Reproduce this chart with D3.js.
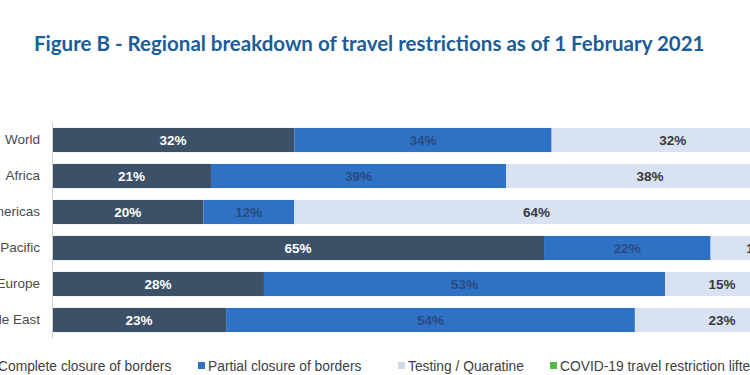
<!DOCTYPE html>
<html>
<head>
<meta charset="utf-8">
<script src="https://cdn.jsdelivr.net/npm/d3@7"></script>
<style>
html,body{margin:0;padding:0;background:#fff;overflow:hidden;}
svg{display:block;}
</style>
</head>
<body>
<svg id="chart" width="750" height="375"></svg>
<script>
const categories = ["World", "Africa", "Americas", "Asia Pacific", "Europe", "Middle East"];
const seriesNames = ["Complete closure of borders", "Partial closure of borders", "Testing / Quaratine", "COVID-19 travel restriction lifted"];
const completeClosure = [32, 21, 20, 65, 28, 23];
const partialClosure = [34, 39, 12, 22, 53, 54];
const testingQuarantine = [32, 38, 64, 13, 15, 23];
const restrictionLifted = [2, 2, 4, 0, 4, 0];
const titleText = "Figure B - Regional breakdown of travel restrictions as of 1 February 2021";

const colors = ["#3c5068", "#2e71c5", "#d8e2f2", "#55b548"];
const labelColors = ["#ffffff", "#2a4c80", "#3a3a3a", "#3a3a3a"];

const svg = d3.select("#chart");

svg.append("text")
  .attr("x", 34).attr("y", 51)
  .attr("font-family", "Lato, 'Open Sans', sans-serif")
  .attr("font-weight", 700)
  .attr("font-size", 20.5)
  .attr("fill", "#1b5c99")
  .text(titleText);

const x0 = 52;
const x = d3.scaleLinear().domain([0, 100]).range([x0, x0 + 757]);
const y = d3.scaleBand().domain(categories).range([122, 338]).paddingInner(0.33).paddingOuter(0.165);

const seriesData = [completeClosure, partialClosure, testingQuarantine, restrictionLifted];
const rows = categories.map((c, i) => {
  const o = {cat: c};
  seriesNames.forEach((s, k) => o[s] = seriesData[k][i]);
  return o;
});
const stacked = d3.stack().keys(seriesNames)(rows);

const g = svg.append("g");
stacked.forEach((layer, k) => {
  g.selectAll(null).data(layer).enter().append("rect")
    .attr("x", d => x(d[0]))
    .attr("y", d => y(d.data.cat))
    .attr("width", d => x(d[1]) - x(d[0]))
    .attr("height", y.bandwidth())
    .attr("fill", colors[k]);
  if (k < 3) {
    g.selectAll(null).data(layer.filter(d => d[1] - d[0] > 0)).enter().append("text")
      .attr("x", d => (x(d[0]) + x(d[1])) / 2)
      .attr("y", d => y(d.data.cat) + y.bandwidth() / 2)
      .attr("dy", "0.35em")
      .attr("text-anchor", "middle")
      .attr("font-family", "Arial, 'Liberation Sans', sans-serif")
      .attr("font-weight", 700)
      .attr("font-size", 13.5)
      .attr("fill", labelColors[k])
      .text(d => (d[1] - d[0]) + "%");
  }
});

// axis
const yAxis = d3.axisLeft(y).tickSize(0).tickPadding(12);
const ax = svg.append("g").attr("transform", `translate(${x0},0)`).call(yAxis);
ax.select(".domain").attr("stroke", "#d0d0d0").attr("stroke-width", 1);
ax.selectAll("text")
  .attr("font-family", "Arial, 'Liberation Sans', sans-serif")
  .attr("font-size", 13.5)
  .attr("fill", "#4a4a4a");

// legend
const legendX = [-12, 198, 398, 550];
const lg = svg.append("g");
seriesNames.forEach((s, k) => {
  lg.append("rect").attr("x", legendX[k]).attr("y", 362).attr("width", 7).attr("height", 7).attr("fill", colors[k] === "#d8e2f2" ? "#cfd9ea" : colors[k]);
  lg.append("text").attr("x", legendX[k] + 10).attr("y", 366)
    .attr("dy", "0.35em")
    .attr("font-family", "Arial, 'Liberation Sans', sans-serif")
    .attr("font-size", 13.8)
    .attr("fill", "#404040")
    .text(s);
});
</script>
</body>
</html>
